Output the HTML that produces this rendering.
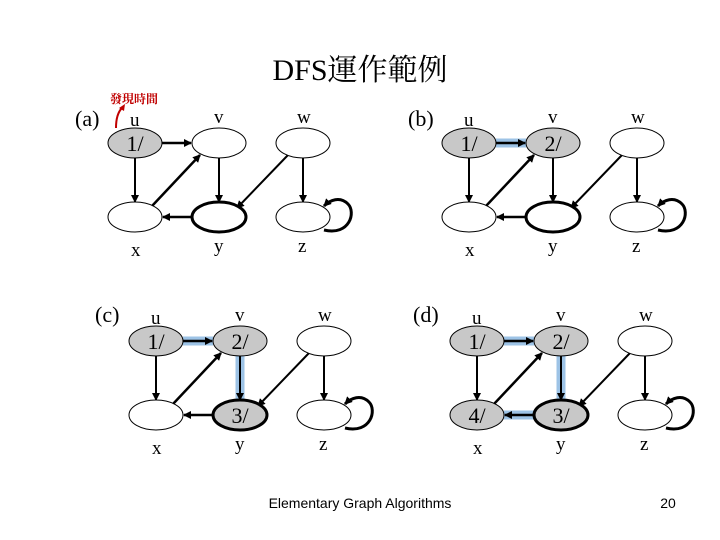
<!DOCTYPE html>
<html><head><meta charset="utf-8"><style>
body{margin:0;background:#fff}
svg{display:block}
.s{font-family:"Liberation Serif","Noto Serif CJK SC",serif;font-size:19px;fill:#000}
.n{font-family:"Liberation Serif",serif;font-size:22px;fill:#000}
</style></head><body>
<svg width="720" height="540" viewBox="0 0 720 540">
<defs>
<marker id="ar" markerWidth="8" markerHeight="8" refX="7" refY="4" orient="auto" markerUnits="userSpaceOnUse">
<path d="M0,0 L8,4 L0,8 z" fill="#000"/></marker>
<g id="edges" stroke="#000" stroke-width="2" fill="none">
<line x1="162" y1="143" x2="191" y2="143" marker-end="url(#ar)" stroke-width="2.5"/>
<line x1="135" y1="157" x2="135" y2="202" marker-end="url(#ar)"/>
<line x1="152" y1="206" x2="200" y2="155" marker-end="url(#ar)" stroke-width="2.5"/>
<line x1="219" y1="157" x2="219" y2="202" marker-end="url(#ar)"/>
<line x1="192" y1="217" x2="163" y2="217" marker-end="url(#ar)" stroke-width="2.5"/>
<line x1="288" y1="155" x2="237" y2="208" marker-end="url(#ar)"/>
<line x1="303" y1="157" x2="303" y2="202" marker-end="url(#ar)"/>
<path d="M324,230 C350,236 356,212 348,204 C340,196 330,200 324,206" stroke-width="3" marker-end="url(#ar)"/>
</g>
<g id="labs" class="s">
<text x="130" y="126" class="s">u</text>
<text x="214" y="123" class="s">v</text>
<text x="297" y="123" class="s">w</text>
<text x="131" y="256" class="s">x</text>
<text x="214" y="252" class="s">y</text>
<text x="298" y="252" class="s">z</text>
</g>
</defs>
<text x="360" y="80" text-anchor="middle" font-family="Liberation Serif,Noto Serif CJK SC,serif" font-size="30">DFS運作範例</text>

<g>
<text x="75" y="126" class="n">(a)</text>
<text x="110" y="103" font-family="Noto Serif CJK TC,Noto Sans CJK TC,sans-serif" font-size="12" font-weight="bold" fill="#c00000">發現時間</text>
<path d="M116,128 C116,118 118,112 122,108" stroke="#c00000" stroke-width="2" fill="none"/>
<path d="M119,108 L125,104 L124,111 z" fill="#c00000"/>
<use href="#labs"/>
<use href="#edges"/>
<ellipse cx="135" cy="143" rx="27" ry="15" fill="#c8c8c8" stroke="#000"/>
<ellipse cx="219" cy="143" rx="27" ry="15" fill="#fff" stroke="#000"/>
<ellipse cx="303" cy="143" rx="27" ry="15" fill="#fff" stroke="#000"/>
<ellipse cx="135" cy="217" rx="27" ry="15" fill="#fff" stroke="#000"/>
<ellipse cx="219" cy="217" rx="27" ry="15" fill="#fff" stroke="#000" stroke-width="3"/>
<ellipse cx="303" cy="217" rx="27" ry="15" fill="#fff" stroke="#000"/>
<text x="135" y="151" class="n" text-anchor="middle">1/</text>
</g>

<text x="408" y="126" class="n">(b)</text>
<g transform="translate(334,0)">
<line x1="162" y1="143" x2="192" y2="143" stroke="#9dc3e6" stroke-width="9"/>
<use href="#labs"/>
<use href="#edges"/>
<ellipse cx="135" cy="143" rx="27" ry="15" fill="#c8c8c8" stroke="#000"/>
<ellipse cx="219" cy="143" rx="27" ry="15" fill="#c8c8c8" stroke="#000"/>
<ellipse cx="303" cy="143" rx="27" ry="15" fill="#fff" stroke="#000"/>
<ellipse cx="135" cy="217" rx="27" ry="15" fill="#fff" stroke="#000"/>
<ellipse cx="219" cy="217" rx="27" ry="15" fill="#fff" stroke="#000" stroke-width="3"/>
<ellipse cx="303" cy="217" rx="27" ry="15" fill="#fff" stroke="#000"/>
<text x="135" y="151" class="n" text-anchor="middle">1/</text>
<text x="219" y="151" class="n" text-anchor="middle">2/</text>
</g>

<text x="95" y="322" class="n">(c)</text>
<g transform="translate(21,198)">
<line x1="162" y1="143" x2="192" y2="143" stroke="#9dc3e6" stroke-width="9"/>
<line x1="219" y1="157" x2="219" y2="203" stroke="#9dc3e6" stroke-width="9"/>
<use href="#labs"/>
<use href="#edges"/>
<ellipse cx="135" cy="143" rx="27" ry="15" fill="#c8c8c8" stroke="#000"/>
<ellipse cx="219" cy="143" rx="27" ry="15" fill="#c8c8c8" stroke="#000"/>
<ellipse cx="303" cy="143" rx="27" ry="15" fill="#fff" stroke="#000"/>
<ellipse cx="135" cy="217" rx="27" ry="15" fill="#fff" stroke="#000"/>
<ellipse cx="219" cy="217" rx="27" ry="15" fill="#c8c8c8" stroke="#000" stroke-width="3"/>
<ellipse cx="303" cy="217" rx="27" ry="15" fill="#fff" stroke="#000"/>
<text x="135" y="151" class="n" text-anchor="middle">1/</text>
<text x="219" y="151" class="n" text-anchor="middle">2/</text>
<text x="219" y="225" class="n" text-anchor="middle">3/</text>
</g>

<text x="413" y="322" class="n">(d)</text>
<g transform="translate(342,198)">
<line x1="162" y1="143" x2="192" y2="143" stroke="#9dc3e6" stroke-width="9"/>
<line x1="219" y1="157" x2="219" y2="203" stroke="#9dc3e6" stroke-width="9"/>
<line x1="192" y1="217" x2="162" y2="217" stroke="#9dc3e6" stroke-width="9"/>
<use href="#labs"/>
<use href="#edges"/>
<ellipse cx="135" cy="143" rx="27" ry="15" fill="#c8c8c8" stroke="#000"/>
<ellipse cx="219" cy="143" rx="27" ry="15" fill="#c8c8c8" stroke="#000"/>
<ellipse cx="303" cy="143" rx="27" ry="15" fill="#fff" stroke="#000"/>
<ellipse cx="135" cy="217" rx="27" ry="15" fill="#c8c8c8" stroke="#000"/>
<ellipse cx="219" cy="217" rx="27" ry="15" fill="#c8c8c8" stroke="#000" stroke-width="3"/>
<ellipse cx="303" cy="217" rx="27" ry="15" fill="#fff" stroke="#000"/>
<text x="135" y="151" class="n" text-anchor="middle">1/</text>
<text x="219" y="151" class="n" text-anchor="middle">2/</text>
<text x="219" y="225" class="n" text-anchor="middle">3/</text>
<text x="135" y="225" class="n" text-anchor="middle">4/</text>
</g>

<text x="360" y="508" text-anchor="middle" font-family="Liberation Sans,sans-serif" font-size="14">Elementary Graph Algorithms</text>
<text x="668" y="508" text-anchor="middle" font-family="Liberation Sans,sans-serif" font-size="14">20</text>
</svg>
</body></html>
